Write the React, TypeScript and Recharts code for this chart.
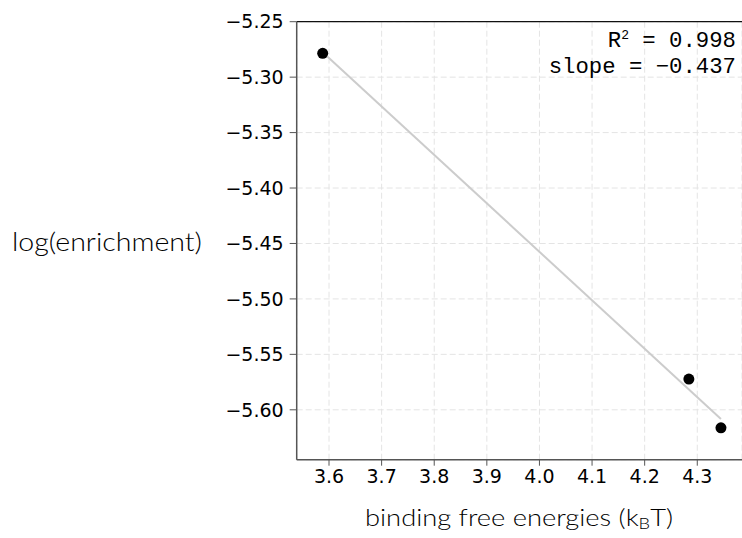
import React from "react";
import {
  ScatterChart,
  Scatter,
  XAxis,
  YAxis,
  CartesianGrid,
  ReferenceLine,
} from "recharts";

// measured points: binding free energy (kBT) vs log(enrichment)
const energies = [3.588, 4.284, 4.345];
const logEnrichment = [-5.2785, -5.5723, -5.6162];

// least-squares fit, endpoints at the outer points
const fitEnergies = [3.588, 4.345];
const fitValues = [-5.2775, -5.6083];

const xTicks = [3.6, 3.7, 3.8, 3.9, 4.0, 4.1, 4.2, 4.3];
const yTicks = [-5.6, -5.55, -5.5, -5.45, -5.4, -5.35, -5.3, -5.25];

const rSquared = "0.998";
const slope = "−0.437";

const points = energies.map((x, i) => ({ x, y: logEnrichment[i] }));
const fitLine = fitEnergies.map((x, i) => ({ x, y: fitValues[i] }));

const W = 742;
const H = 538;

const tickStyle = { fill: "#000", fontSize: 19, fontFamily: "DejaVu Sans" };
const minus = (s: string) => s.replace("-", "−");

const App: React.FC = () => {
  return (
    <div
      style={{
        position: "absolute",
        left: 0,
        top: 0,
        width: W,
        height: H,
        overflow: "hidden",
        background: "#fff",
      }}
    >
      <ScatterChart
        width={W}
        height={H}
        margin={{ top: 21.7, right: 0, bottom: 0, left: 0 }}
      >
        <CartesianGrid stroke="#e4e4e4" strokeDasharray="6 3" />
        <XAxis
          type="number"
          dataKey="x"
          domain={[3.5386, 4.385]}
          ticks={xTicks}
          allowDataOverflow
          height={78.3}
          tick={tickStyle}
          tickFormatter={(v: number) => v.toFixed(1)}
          tickSize={6}
          tickMargin={4}
          axisLine={{ stroke: "#555", strokeWidth: 1.5 }}
          tickLine={{ stroke: "#555", strokeWidth: 1 }}
        />
        <YAxis
          type="number"
          dataKey="y"
          domain={[-5.645, -5.25]}
          ticks={yTicks}
          allowDataOverflow
          width={296.7}
          tick={tickStyle}
          tickFormatter={(v: number) => minus(v.toFixed(2))}
          tickSize={7}
          tickMargin={6}
          axisLine={{ stroke: "#555", strokeWidth: 1.5 }}
          tickLine={{ stroke: "#555", strokeWidth: 1 }}
        />
        <ReferenceLine y={-5.25} stroke="#111" strokeWidth={1.2} />
        <Scatter
          data={fitLine}
          line={{ stroke: "#cccccc", strokeWidth: 2 }}
          shape={() => <g />}
          isAnimationActive={false}
        />
        <Scatter
          data={points}
          fill="#000"
          shape={(p: any) => <circle cx={p.cx} cy={p.cy} r={5.5} fill="#000" />}
          isAnimationActive={false}
        />
      </ScatterChart>
      <svg
        width={W}
        height={H}
        style={{ position: "absolute", left: 0, top: 0, pointerEvents: "none" }}
      >
        <text
          x={12}
          y={251}
          fontFamily="Lato"
          fontWeight={300}
          fontSize={25}
          fill="#000"
          textLength={190}
          lengthAdjust="spacingAndGlyphs"
        >
          log(enrichment)
        </text>
        <text
          x={365}
          y={526}
          fontFamily="Lato"
          fontWeight={300}
          fontSize={24}
          fill="#000"
          textLength={308}
          lengthAdjust="spacingAndGlyphs"
        >
          binding free energies (k
          <tspan fontSize={16} dy={3}>B</tspan>
          <tspan dy={-3}>T)</tspan>
        </text>
        <g fontFamily="Liberation Mono" fontSize={22.3} fill="#000" textAnchor="end">
          <text x={736} y={46.5}>
            R<tspan fontSize={13} dy={-8}>2</tspan>
            <tspan dy={8}>{` = ${rSquared}`}</tspan>
          </text>
          <text x={736} y={73}>{`slope = ${slope}`}</text>
        </g>
      </svg>
    </div>
  );
};

export default App;
